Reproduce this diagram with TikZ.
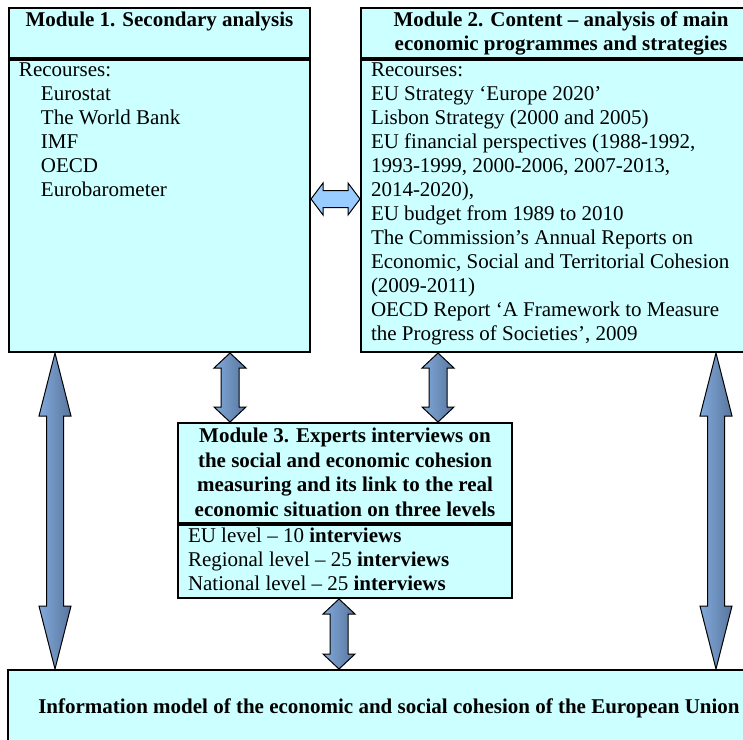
\documentclass[tikz,border=0pt]{standalone}
\usepackage{fontspec}
\setmainfont{Liberation Serif}
\usepackage{tikz}
\usetikzlibrary{calc}

\definecolor{boxcyan}{RGB}{204,255,255}
\definecolor{sideblue}{RGB}{153,204,255}
\definecolor{arrlight}{RGB}{130,170,220}
\definecolor{arrdark}{RGB}{55,80,112}
\definecolor{arrmid}{RGB}{88,117,156}

\tikzset{modbox/.style={draw=black, line width=1pt, fill=boxcyan, inner sep=0pt, anchor=north west,
    font=\fontsize{10.5}{12}\selectfont}}
\tikzset{bigarrow/.style={draw=black, line width=0.5pt, left color=arrlight, middle color=arrdark, right color=arrmid}}
\tikzset{sidearrow/.style={draw=black, line width=0.5pt, fill=sideblue}}

% header and body texts of the modules: width, height, text
\newcommand{\headpar}[3]{\parbox[t][#2][t]{#1}{\vspace*{1.8pt}\centering\bfseries #3}}
\newcommand{\bodypar}[3]{\parbox[t][#2][t]{#1}{\vspace*{1.6pt}\raggedright\leftskip=5pt #3}}

% block double arrows: style, from, to, shaft half width, head half width, head length
\newcommand{\vblockarrow}[6]{%
\path[#1] let \p1=(#2), \p2=(#3) in (\x1,\y1) -- (\x1+#5,\y1-#6) -- (\x1+#4,\y1-#6) -- (\x1+#4,\y2+#6)
  -- (\x1+#5,\y2+#6) -- (\x1,\y2) -- (\x1-#5,\y2+#6) -- (\x1-#4,\y2+#6) -- (\x1-#4,\y1-#6) -- (\x1-#5,\y1-#6) -- cycle;}
\newcommand{\hblockarrow}[6]{%
\path[#1] let \p1=(#2), \p2=(#3) in (\x1,\y1) -- (\x1+#6,\y1+#5) -- (\x1+#6,\y1+#4) -- (\x2-#6,\y1+#4)
  -- (\x2-#6,\y1+#5) -- (\x2,\y1) -- (\x2-#6,\y1-#5) -- (\x2-#6,\y1-#4) -- (\x1+#6,\y1-#4) -- (\x1+#6,\y1-#5) -- cycle;}

\begin{document}
\begin{tikzpicture}[x=0.5pt,y=-0.5pt]
\useasboundingbox (0,0) rectangle (743,739);

% module 1
\node[modbox] (m1head) at (8,7) {\headpar{150.5pt}{25pt}{Module 1. Secondary analysis}};
\node[modbox] (m1body) at (m1head.south west) {\bodypar{150.5pt}{146pt}{Recourses:\\
  \hspace*{11pt}Eurostat\\ \hspace*{11pt}The World Bank\\ \hspace*{11pt}IMF\\ \hspace*{11pt}OECD\\
  \hspace*{11pt}Eurobarometer}};

% module 2
\node[modbox] (m2head) at (360,7) {\headpar{200pt}{25pt}{Module 2. Content -- analysis of main\\ economic programmes and strategies}};
\node[modbox] (m2body) at (m2head.south west) {\bodypar{200pt}{146pt}{Recourses:\\
  EU Strategy ‘Europe 2020’\\
  Lisbon Strategy (2000 and 2005)\\
  EU financial perspectives (1988-1992,\\
  1993-1999, 2000-2006, 2007-2013,\\
  2014-2020),\\
  EU budget from 1989 to 2010\\
  The Commission’s Annual Reports on\\
  Economic, Social and Territorial Cohesion\\
  (2009-2011)\\
  OECD Report ‘A Framework to Measure\\
  the Progress of Societies’, 2009}};

% module 3
\node[modbox, font=\fontsize{10.5}{12.25}\selectfont] (m3head) at (177,422) {\headpar{167pt}{50pt}{\vspace*{0.8pt}Module 3. Experts interviews on\\ the social and economic cohesion\\
  measuring and its link to the real\\ economic situation on three levels}};
\node[modbox] (m3body) at (m3head.south west) {\bodypar{167pt}{36.5pt}{EU level -- 10 \textbf{interviews}\\
  Regional level -- 25 \textbf{interviews}\\ National level -- 25 \textbf{interviews}}};

% result
\node[modbox, anchor=north west, minimum width=381pt, minimum height=38pt, font=\fontsize{10.5}{12}\selectfont\bfseries] (info) at (7,669)
  {Information model of the economic and social cohesion of the European Union};

% arrow ends
\coordinate (lt) at ([xshift=23.5pt]m1body.south west);
\coordinate (lb) at (lt |- info.north);
\coordinate (rt) at ([xshift=178pt]m2body.south west);
\coordinate (rb) at (rt |- info.north);
\coordinate (ma) at ([xshift=111pt]m1body.south west);
\coordinate (mb) at (ma |- m3head.north);
\coordinate (mc) at ([xshift=39pt]m2body.south west);
\coordinate (md) at (mc |- m3head.north);
\coordinate (me) at ([xshift=81pt]m3body.south west);
\coordinate (mf) at (me |- info.north);
\coordinate (ha) at ([yshift=-70pt]m1body.north east);
\coordinate (hb) at (ha -| m2body.west);

\vblockarrow{bigarrow}{lt}{lb}{4.25pt}{8pt}{31.5pt}
\vblockarrow{bigarrow}{rt}{rb}{4.25pt}{8pt}{31.5pt}
\vblockarrow{bigarrow}{ma}{mb}{4.5pt}{8pt}{7.5pt}
\vblockarrow{bigarrow}{mc}{md}{4.5pt}{8pt}{7.5pt}
\vblockarrow{bigarrow}{me}{mf}{4.5pt}{8pt}{7.5pt}
\hblockarrow{sidearrow}{ha}{hb}{4.25pt}{8pt}{6pt}
\end{tikzpicture}
\end{document}
